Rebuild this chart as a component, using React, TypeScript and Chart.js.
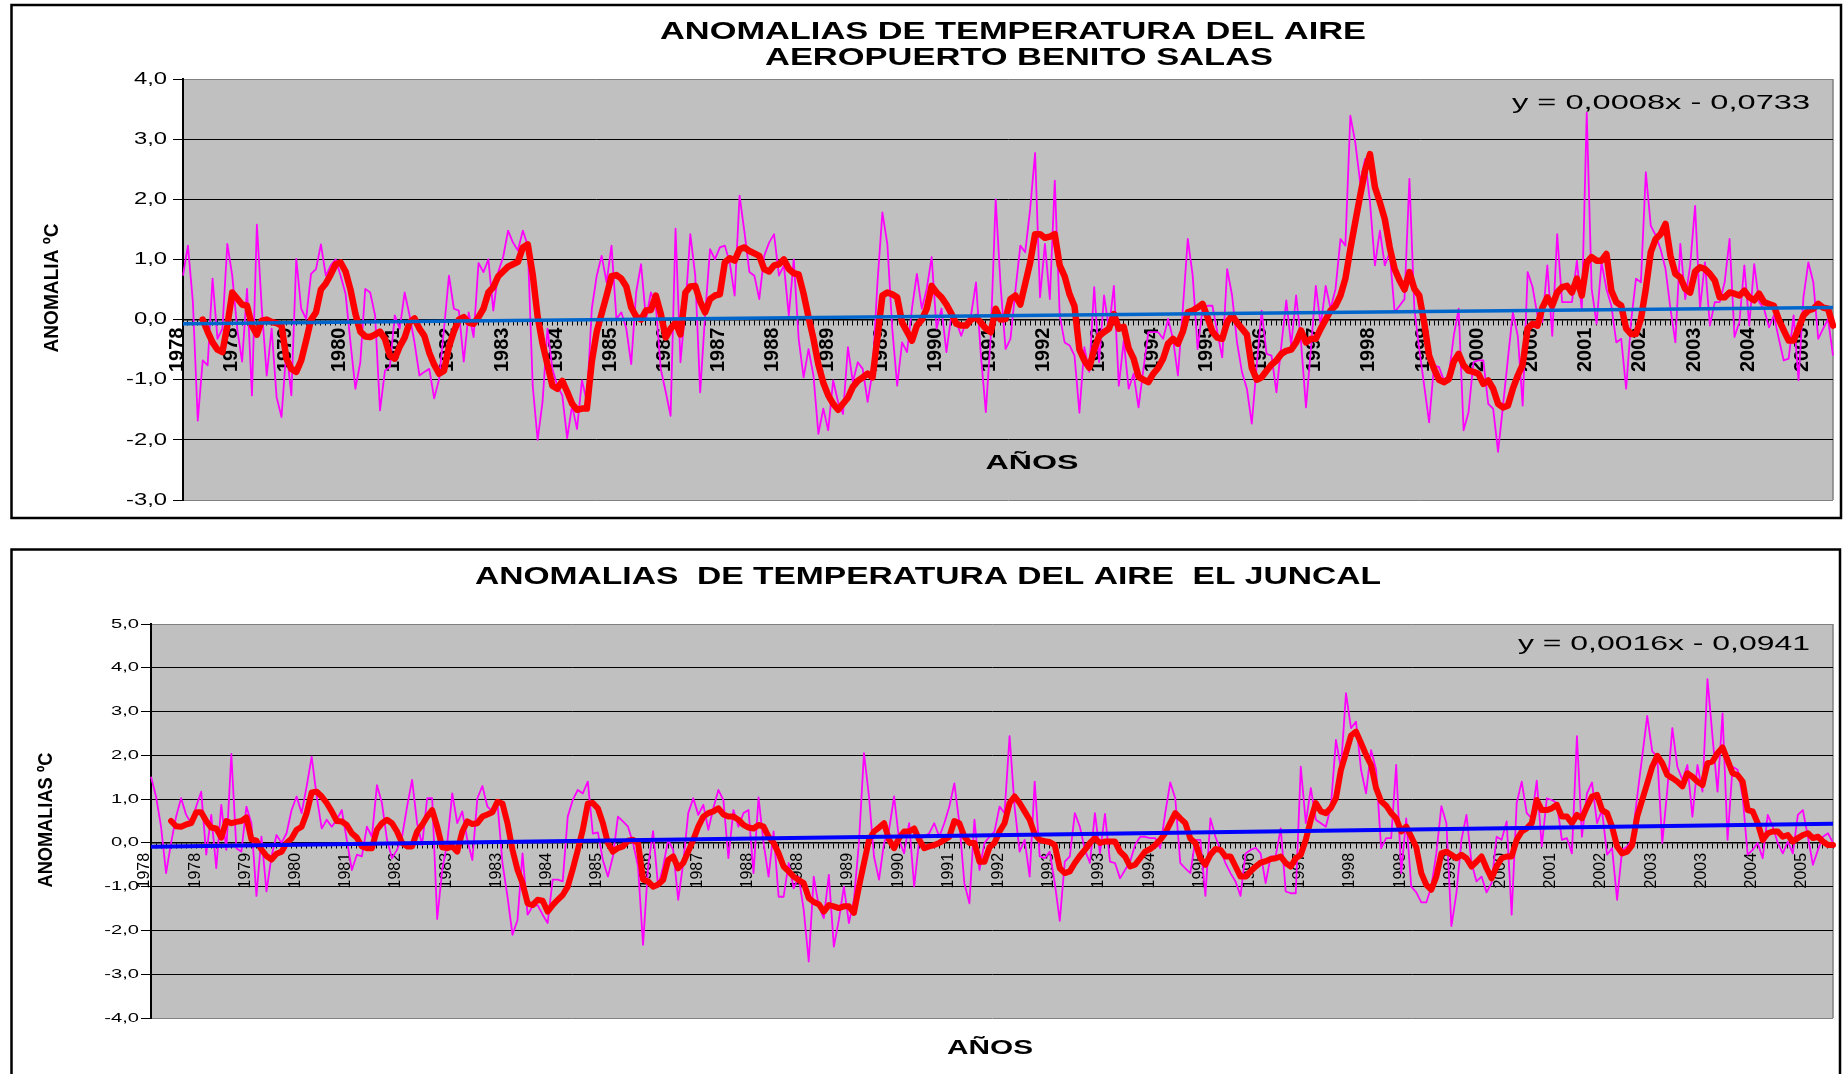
import React, { useEffect, useRef } from "react";
import { Chart, registerables } from "chart.js";

Chart.register(...registerables);

const FONT = '"Liberation Sans", Arial, Helvetica, sans-serif';

// ---------- categories ----------
const START_YEAR = 1978;
const N_MONTHS = 336; // Jan 1978 - Dec 2005
const monthLabels = Array.from(
  { length: N_MONTHS },
  (_, i) => `${START_YEAR + Math.floor(i / 12)}-${String((i % 12) + 1).padStart(2, "0")}`
);

// ---------- tick labels (as printed on the category axis) ----------
const topTickEvery = 11;
const topTickLabels = [
  "1978", "1978", "1979", "1980", "1981", "1982", "1983", "1984", "1985", "1986",
  "1987", "1988", "1989", "1989", "1990", "1991", "1992", "1993", "1994", "1995",
  "1996", "1997", "1998", "1999", "2000", "2000", "2001", "2002", "2003", "2004", "2005",
];
const bottomTickEvery = 10;
const bottomTickLabels = [
  "1978", "1978", "1979", "1980", "1981", "1982", "1983", "1983", "1984", "1985",
  "1986", "1987", "1988", "1988", "1989", "1990", "1991", "1992", "1993", "1993",
  "1994", "1995", "1996", "1997", "1998", "1998", "1999", "2000", "2001", "2002",
  "2003", "2003", "2004", "2005",
];

// ---------- Aeropuerto Benito Salas ----------
const topMonthly = [
  0.73, 1.23, 0.3, -1.68, -0.68, -0.76, 0.68, -0.32, -0.15, 1.26,
  0.73, -0.15, -0.7, 0.51, -1.26, 1.58, 0.18, -0.93, -0.15, -1.29,
  -1.62, -0.49, -1.26, 1.01, 0.18, 0.01, 0.76, 0.84, 1.25, 0.73,
  0.9, 1.0, 0.73, 0.43, -0.38, -1.15, -0.71, 0.51, 0.45, 0.07,
  -1.51, -0.85, -0.79, 0.07, -0.15, 0.45, 0.07, -0.38, -0.93, -0.87,
  -0.82, -1.31, -0.99, -0.15, 0.73, 0.18, 0.15, -0.7, 0.12, -0.29,
  0.94, 0.79, 1.0, 0.15, 0.79, 1.04, 1.48, 1.28, 1.15, 1.48,
  1.23, -1.1, -2.0, -1.37, -0.15, -0.82, -1.1, -1.26, -1.97, -1.43,
  -1.82, -1.01, -1.37, 0.18, 0.73, 1.06, 0.62, 1.23, 0.01, 0.12,
  -0.15, -0.74, 0.45, 0.92, 0.01, 0.45, 0.23, -0.82, -1.2, -1.6,
  1.51, -0.71, 0.2, 1.42, 0.73, -1.21, 0.07, 1.17, 1.0, 1.2,
  1.23, 0.95, 0.4, 2.06, 1.45, 0.79, 0.73, 0.34, 1.06, 1.28,
  1.42, 0.73, 0.9, 0.07, 1.0, -0.32, -0.96, -0.49, -0.93, -1.9,
  -1.48, -1.84, -1.01, -1.37, -1.57, -0.46, -1.04, -0.71, -0.82, -1.37,
  -0.87, 0.62, 1.78, 1.26, -0.15, -1.1, -0.38, -0.54, 0.18, 0.76,
  0.18, 0.51, 1.04, -0.15, 0.18, -0.54, 0.07, -0.04, -0.27, -0.04,
  0.07, 0.62, -0.6, -1.54, -0.27, 2.0, 0.56, -0.49, -0.32, 0.48,
  1.23, 1.12, 1.84, 2.77, 0.37, 1.26, 0.34, 2.31, 0.07, -0.38,
  -0.43, -0.6, -1.55, -0.46, -0.87, 0.54, -0.71, 0.4, -0.15, 0.56,
  -1.1, -0.35, -1.15, -0.9, -1.46, -0.82, -0.21, -0.21, -0.21, -0.32,
  0.01, -0.32, -0.93, 0.18, 1.34, 0.73, -0.49, 0.18, 0.23, 0.23,
  -0.21, -0.63, 0.84, 0.4, -0.38, -0.87, -1.15, -1.73, -0.76, 0.15,
  -0.57, -0.6, -1.21, -0.43, 0.32, -0.43, 0.4, -0.38, -1.46, -0.49,
  0.56, -0.1, 0.56, 0.18, 0.51, 1.34, 1.23, 3.39, 2.95, 2.28,
  2.67, 1.95, 0.9, 1.48, 0.9, 1.12, 0.12, 0.23, 0.34, 2.34,
  0.18, -0.49, -1.1, -1.71, -0.76, -0.79, -1.01, -0.93, -0.27, 0.18,
  -1.84, -1.54, -0.71, -0.68, -0.68, -1.4, -1.48, -2.2, -1.43, -0.65,
  0.12, -0.27, -1.43, 0.79, 0.54, 0.07, -0.04, 0.9, -0.27, 1.42,
  0.29, 0.29, 0.29, 0.98, 0.15, 3.44, 0.51, -0.07, 0.95, 0.51,
  0.23, -0.38, -0.32, -1.15, -0.04, 0.68, 0.62, 2.45, 1.56, 1.4,
  1.17, 0.84, 0.18, -0.38, 1.26, 0.34, 0.9, 1.89, 0.18, 0.95,
  -0.1, 0.29, 0.29, 0.62, 1.34, -0.29, -0.04, 0.9, -0.1, 0.92,
  0.29, 0.18, -0.13, 0.07, -0.32, -0.68, -0.65, 0.07, -1.01, 0.37,
  0.95, 0.62, -0.32, -0.15, 0.01, -0.6,
];
const topMovingAvg = [
  null, null, null, null, 0.0, -0.2, -0.38, -0.5, -0.54, -0.1,
  0.45, 0.35, 0.25, 0.23, -0.1, -0.25, -0.02, 0.0, -0.04, -0.06,
  -0.1, -0.65, -0.82, -0.87, -0.68, -0.35, 0.0, 0.12, 0.5, 0.6,
  0.75, 0.92, 0.95, 0.8, 0.5, 0.1, -0.2, -0.28, -0.29, -0.25,
  -0.2, -0.32, -0.6, -0.65, -0.45, -0.3, -0.05, 0.02, -0.15, -0.27,
  -0.55, -0.75, -0.9, -0.85, -0.45, -0.2, 0.0, 0.04, -0.05, -0.07,
  0.04, 0.18, 0.45, 0.54, 0.72, 0.8, 0.88, 0.92, 0.96, 1.2,
  1.25, 0.75, 0.05, -0.4, -0.75, -1.1, -1.15, -1.02, -1.2, -1.4,
  -1.5, -1.48, -1.48, -0.7, -0.2, 0.1, 0.4, 0.72, 0.74, 0.68,
  0.55, 0.2, 0.05, 0.0, 0.15, 0.16, 0.4, 0.1, -0.3, -0.15,
  -0.05, -0.25, 0.45, 0.55, 0.56, 0.3, 0.12, 0.34, 0.4, 0.42,
  0.95, 1.02, 0.98, 1.17, 1.2, 1.14, 1.1, 1.06, 0.84, 0.8,
  0.9, 0.92, 1.0, 0.84, 0.77, 0.75, 0.43, 0.04, -0.32, -0.75,
  -1.05, -1.26, -1.4, -1.5, -1.4, -1.3, -1.12, -1.02, -0.96, -0.9,
  -0.96, -0.3, 0.4, 0.45, 0.42, 0.37, -0.05, -0.2, -0.35, -0.1,
  0.0, 0.18, 0.56, 0.45, 0.37, 0.25, 0.1, -0.07, -0.1, -0.1,
  0.0, 0.04, -0.05, -0.15, -0.21, 0.18, 0.0, 0.01, 0.34, 0.4,
  0.25, 0.6, 0.95, 1.42, 1.42, 1.36, 1.38, 1.42, 0.9, 0.72,
  0.42, 0.22, -0.5, -0.68, -0.8, -0.5, -0.27, -0.21, -0.15, 0.09,
  -0.15, -0.12, -0.48, -0.65, -0.95, -1.0, -1.04, -0.9, -0.8, -0.65,
  -0.4, -0.32, -0.4, -0.2, 0.12, 0.15, 0.2, 0.26, 0.04, -0.2,
  -0.3, -0.32, -0.04, 0.07, -0.05, -0.15, -0.25, -0.8, -1.0, -0.96,
  -0.85, -0.75, -0.68, -0.57, -0.52, -0.5, -0.38, -0.18, -0.38, -0.32,
  -0.32, -0.15, 0.0, 0.15, 0.23, 0.4, 0.68, 1.17, 1.62, 2.06,
  2.48, 2.75, 2.2, 1.95, 1.67, 1.2, 0.84, 0.65, 0.5, 0.79,
  0.51, 0.4, -0.05, -0.6, -0.82, -1.0, -1.04, -0.99, -0.7, -0.57,
  -0.76, -0.85, -0.87, -0.9, -1.07, -1.01, -1.15, -1.4, -1.46, -1.43,
  -1.15, -0.93, -0.75, -0.15, -0.07, -0.1, 0.2, 0.37, 0.23, 0.45,
  0.54, 0.56, 0.45, 0.68, 0.4, 0.95, 1.04, 0.98, 0.98, 1.09,
  0.48, 0.29, 0.23, -0.15, -0.24, -0.24, 0.01, 0.51, 1.12, 1.34,
  1.42, 1.59, 1.06, 0.76, 0.7, 0.51, 0.45, 0.8, 0.87, 0.84,
  0.76, 0.65, 0.37, 0.37, 0.45, 0.43, 0.4, 0.48, 0.37, 0.32,
  0.43, 0.29, 0.26, 0.23, 0.0, -0.18, -0.35, -0.35, -0.15, 0.07,
  0.15, 0.18, 0.26, 0.2, 0.18, -0.1,
];
const topTrendEnds = [-0.07, 0.2];

// ---------- El Juncal ----------
const bottomMonthly = [
  1.51, 1.06, 0.37, -0.69, 0.0, 0.6, 1.02, 0.64, 0.45, 0.83,
  1.17, -0.27, 0.64, -0.58, 0.87, -0.16, 2.03, -0.12, -0.2, 0.83,
  0.45, -1.21, 0.14, -1.11, -0.31, 0.18, 0.0, 0.22, 0.75, 1.06,
  0.68, 1.29, 1.97, 1.06, 0.33, 0.53, 0.37, 0.53, 0.75, 0.07,
  -0.62, -0.27, -0.31, 0.37, 0.14, 1.32, 0.91, 0.07, -0.35, -0.16,
  0.14, 0.83, 1.44, 0.45, -0.05, 1.02, 1.02, -1.74, -0.62, 0.0,
  1.13, 0.45, 0.72, 0.07, -0.39, 1.02, 1.3, 0.83, 0.72, 0.91,
  -0.46, -1.23, -2.1, -1.76, -0.24, -1.64, -1.45, -1.42, -1.64, -1.83,
  -0.84, -0.84, -0.88, 0.6, 0.98, 1.21, 1.13, 1.4, 0.21, 0.24,
  -0.39, -0.77, -0.31, 0.6, 0.49, 0.37, 0.0, -0.54, -2.33, -0.54,
  0.27, -1.0, -0.54, 0.07, -0.16, -1.3, -0.46, 0.68, 1.02, 0.64,
  0.87, 0.3, 0.79, 1.21, 0.98, -0.35, 0.75, 0.37, 0.68, 0.75,
  -0.69, 1.04, 0.0, -0.77, 0.26, -1.23, -1.23, -0.46, -1.04, -0.77,
  -1.53, -2.71, -0.77, -1.45, -1.72, -0.73, -2.37, -1.76, -1.0, -1.83,
  -1.3, 0.0, 2.05, 1.06, -0.31, -0.84, 0.0, 0.3, 1.06, 0.07,
  -0.24, 0.45, -1.0, 0.07, 0.14, 0.22, 0.45, 0.14, 0.45, 0.83,
  1.36, 0.45, -0.92, -1.38, 0.53, -0.62, 0.0, 0.14, 0.26, 0.83,
  0.68, 2.44, 0.83, -0.2, 0.07, -0.77, 1.4, -0.31, -0.35, -0.2,
  -0.92, -1.78, -0.43, -0.31, 0.68, 0.37, -0.16, -0.46, 0.68, -0.24,
  0.66, -0.43, -0.46, -0.81, -0.62, -0.43, -0.05, 0.14, 0.14, 0.11,
  0.11, -0.12, 0.68, 1.38, 1.02, -0.46, -0.58, -0.69, 0.07, 0.07,
  -1.21, 0.56, 0.14, -0.16, -0.46, -0.69, -0.88, -1.21, -0.24, -0.16,
  -0.11, -0.24, -0.92, -0.31, -0.31, 0.33, -1.11, -1.15, -1.15, 1.74,
  0.45, 1.25, 0.53, 0.45, 0.37, 0.83, 2.35, 1.7, 3.42, 2.62,
  2.77, 1.67, 1.13, 2.12, 1.67, -0.12, 0.11, 0.11, 1.78, -0.69,
  0.56, -1.0, -1.13, -1.36, -1.36, -1.0, -0.24, 0.84, 0.45, -1.9,
  -1.15, 0.07, 0.64, -0.46, -0.88, -0.77, -1.13, -0.92, 0.14, 0.07,
  0.49, -1.64, 0.91, 1.4, 0.68, 0.56, 1.42, -0.08, 1.02, 0.98,
  0.91, 0.07, 0.11, -0.24, 2.44, 0.14, 1.13, 1.38, 0.45, 0.75,
  -0.27, -0.12, -1.3, -0.16, -0.08, 0.07, 1.06, 1.97, 2.9, 2.09,
  1.97, 0.0, 1.21, 2.62, 1.74, 1.44, 1.78, 0.6, 1.78, 1.17,
  3.74, 2.43, 1.17, 2.96, 0.07, 1.74, 1.67, 1.06, -0.27, -0.16,
  0.0, -0.35, 0.64, 0.37, 0.0, -0.24, 0.03, -0.24, 0.64, 0.75,
  0.14, -0.5, -0.16, 0.14, 0.22, 0.0,
];
const bottomMovingAvg = [
  null, null, null, null, 0.5, 0.38, 0.37, 0.42, 0.45, 0.7,
  0.7, 0.5, 0.35, 0.33, 0.12, 0.5, 0.45, 0.48, 0.5, 0.58,
  0.08, 0.05, -0.15, -0.3, -0.38, -0.25, -0.2, 0.0, 0.1, 0.3,
  0.37, 0.68, 1.15, 1.17, 1.06, 0.91, 0.72, 0.5, 0.49, 0.41,
  0.22, 0.12, -0.08, -0.12, -0.12, 0.3, 0.45, 0.53, 0.45, 0.26,
  0.0, -0.08, -0.08, 0.26, 0.41, 0.6, 0.75, 0.37, -0.1, -0.12,
  -0.08, -0.2, 0.26, 0.49, 0.43, 0.45, 0.6, 0.65, 0.7, 0.94,
  0.9, 0.45, -0.16, -0.62, -0.92, -1.38, -1.42, -1.3, -1.32, -1.57,
  -1.42, -1.3, -1.19, -1.0, -0.6, -0.16, 0.3, 0.9, 0.91, 0.79,
  0.45, 0.0, -0.2, -0.12, -0.08, 0.05, 0.07, 0.0, -0.84, -0.88,
  -1.0, -0.95, -0.85, -0.39, -0.31, -0.58, -0.46, -0.2, 0.07, 0.37,
  0.6, 0.68, 0.72, 0.79, 0.65, 0.6, 0.6, 0.53, 0.41, 0.35,
  0.33, 0.41, 0.37, 0.14, 0.0, -0.24, -0.54, -0.65, -0.77, -0.85,
  -0.92, -1.26, -1.35, -1.4, -1.57, -1.42, -1.45, -1.49, -1.45, -1.45,
  -1.6, -1.0, -0.46, 0.07, 0.26, 0.35, 0.45, 0.07, -0.12, 0.11,
  0.26, 0.26, 0.33, 0.07, -0.12, -0.08, -0.05, 0.0, 0.07, 0.14,
  0.5, 0.45, 0.14, 0.0, 0.0, -0.43, -0.43, -0.1, 0.0, 0.26,
  0.45, 0.91, 1.06, 0.91, 0.72, 0.53, 0.2, 0.07, 0.04, 0.02,
  -0.05, -0.58, -0.69, -0.65, -0.46, -0.3, -0.16, 0.0, 0.11, 0.0,
  0.03, 0.03, 0.03, -0.2, -0.31, -0.54, -0.5, -0.35, -0.2, -0.14,
  -0.05, 0.07, 0.22, 0.45, 0.68, 0.56, 0.45, 0.1, 0.0, -0.35,
  -0.5, -0.27, -0.14, -0.16, -0.31, -0.31, -0.54, -0.77, -0.77, -0.65,
  -0.54, -0.45, -0.42, -0.37, -0.35, -0.31, -0.46, -0.54, -0.35, -0.27,
  0.07, 0.53, 0.91, 0.72, 0.68, 0.8, 1.02, 1.67, 2.05, 2.45,
  2.54, 2.28, 2.01, 1.78, 1.25, 0.95, 0.85, 0.68, 0.56, 0.26,
  0.37, 0.14, -0.1, -0.69, -0.96, -1.07, -0.77, -0.24, -0.2, -0.27,
  -0.35, -0.27, -0.35, -0.54, -0.43, -0.31, -0.58, -0.81, -0.54, -0.35,
  -0.31, -0.31, 0.07, 0.26, 0.33, 0.45, 0.98, 0.75, 0.75, 0.79,
  0.87, 0.6, 0.6, 0.45, 0.64, 0.56, 0.83, 1.06, 1.1, 0.75,
  0.68, 0.37, -0.08, -0.24, -0.2, -0.05, 0.6, 0.98, 1.36, 1.74,
  1.99, 1.82, 1.55, 1.48, 1.4, 1.29, 1.59, 1.51, 1.4, 1.32,
  1.82, 1.86, 2.05, 2.18, 1.89, 1.59, 1.55, 1.4, 0.75, 0.72,
  0.45, 0.07, 0.22, 0.26, 0.26, 0.14, 0.18, 0.03, 0.11, 0.18,
  0.22, 0.11, 0.14, 0.03, -0.05, -0.05,
];
const bottomTrendEnds = [-0.09, 0.44];

// ---------- helpers ----------
type TextOpts = {
  font: string;
  width?: number;
  sx?: number;
  align?: CanvasTextAlign;
  rotate?: number;
  color?: string;
};

function drawText(ctx: CanvasRenderingContext2D, text: string, x: number, y: number, o: TextOpts) {
  ctx.save();
  ctx.font = o.font;
  ctx.fillStyle = o.color || "#000";
  ctx.textAlign = o.align || "center";
  ctx.textBaseline = "middle";
  let sx = o.sx ?? 1;
  if (o.width) sx = o.width / ctx.measureText(text).width;
  ctx.translate(x, y);
  if (o.rotate) ctx.rotate(o.rotate);
  ctx.scale(sx, 1);
  ctx.fillText(text, 0, 0);
  ctx.restore();
}

function trendSeries(ends: number[]) {
  const arr: (number | null)[] = new Array(N_MONTHS).fill(null);
  arr[0] = ends[0];
  arr[N_MONTHS - 1] = ends[1];
  return arr;
}

const fmt = (v: number) => v.toFixed(1).replace(".", ",");

type Panel = {
  key: string;
  W: number;
  H: number;
  plot: { left: number; top: number; right: number; bottom: number };
  yMin: number;
  yMax: number;
  frame: { x: number; y: number; w: number; h: number };
  monthly: number[];
  ma: (number | null)[];
  trend: number[];
  trendColor: string;
  trendWidth: number;
  maWidth: number;
  tickLabels: string[];
  tickEvery: number;
  xFont: number;
  xWeight: string;
  xPad: number;
  yTickRight: number;
  yTickFont: number;
  yTickSx: number;
  texts: { text: string; x: number; y: number; o: TextOpts }[];
};

const topPanel: Panel = {
  key: "top",
  W: 1843,
  H: 530,
  plot: { left: 183, top: 79, right: 1833, bottom: 500 },
  yMin: -3,
  yMax: 4,
  frame: { x: 11.5, y: 5, w: 1829.5, h: 513 },
  monthly: topMonthly,
  ma: topMovingAvg,
  trend: topTrendEnds,
  trendColor: "#0066CC",
  trendWidth: 3.5,
  maWidth: 6.5,
  tickLabels: topTickLabels,
  tickEvery: topTickEvery,
  xFont: 20,
  xWeight: "bold",
  xPad: 3,
  yTickRight: 167,
  yTickFont: 17,
  yTickSx: 1.4,
  texts: [
    { text: "ANOMALIAS DE TEMPERATURA DEL AIRE", x: 1013, y: 33, o: { font: `bold 23px ${FONT}`, width: 706 } },
    { text: "AEROPUERTO BENITO SALAS", x: 1019, y: 59, o: { font: `bold 23px ${FONT}`, width: 508 } },
    { text: "ANOMALIA ºC", x: 52, y: 288, o: { font: `bold 21px ${FONT}`, width: 129, rotate: -Math.PI / 2 } },
    { text: "AÑOS", x: 1032, y: 463, o: { font: `bold 20px ${FONT}`, width: 93 } },
    { text: "y = 0,0008x - 0,0733", x: 1661, y: 103, o: { font: `20px ${FONT}`, width: 298 } },
  ],
};

const bottomPanel: Panel = {
  key: "bottom",
  W: 1843,
  H: 544,
  plot: { left: 151, top: 94, right: 1833, bottom: 488 },
  yMin: -4,
  yMax: 5,
  frame: { x: 11.5, y: 19.5, w: 1828.5, h: 600 },
  monthly: bottomMonthly,
  ma: bottomMovingAvg,
  trend: bottomTrendEnds,
  trendColor: "#0000FF",
  trendWidth: 4,
  maWidth: 6,
  tickLabels: bottomTickLabels,
  tickEvery: bottomTickEvery,
  xFont: 16,
  xWeight: "normal",
  xPad: 5,
  yTickRight: 139,
  yTickFont: 13,
  yTickSx: 1.55,
  texts: [
    { text: "ANOMALIAS  DE TEMPERATURA DEL AIRE  EL JUNCAL", x: 928, y: 48, o: { font: `bold 23px ${FONT}`, width: 906 } },
    { text: "ANOMALIAS ºC", x: 46, y: 290, o: { font: `bold 20px ${FONT}`, width: 135, rotate: -Math.PI / 2 } },
    { text: "AÑOS", x: 990, y: 518, o: { font: `bold 20px ${FONT}`, width: 86 } },
    { text: "y = 0,0016x - 0,0941", x: 1664, y: 114, o: { font: `20px ${FONT}`, width: 292 } },
  ],
};

function makePlugin(p: Panel) {
  return {
    id: "panelDecor_" + p.key,
    beforeDraw(chart: any) {
      const { ctx, chartArea: a, width, height } = chart;
      ctx.save();
      ctx.fillStyle = "#FFFFFF";
      ctx.fillRect(0, 0, width, height);
      ctx.strokeStyle = "#000";
      ctx.lineWidth = 2.5;
      ctx.strokeRect(p.frame.x, p.frame.y, p.frame.w, p.frame.h);
      ctx.fillStyle = "#C0C0C0";
      ctx.fillRect(a.left, a.top, a.right - a.left, a.bottom - a.top);
      ctx.strokeStyle = "#808080";
      ctx.lineWidth = 1.5;
      ctx.beginPath();
      ctx.moveTo(a.right, a.top);
      ctx.lineTo(a.right, a.bottom);
      ctx.stroke();
      ctx.restore();
    },
    afterDraw(chart: any) {
      const { ctx } = chart;
      const ys = chart.scales.y;
      ys.ticks.forEach((t: any) => {
        drawText(ctx, fmt(t.value), p.yTickRight, ys.getPixelForValue(t.value), {
          font: `${p.yTickFont}px ${FONT}`,
          sx: p.yTickSx,
          align: "right",
        });
      });
      p.texts.forEach((t) => drawText(ctx, t.text, t.x, t.y, t.o));
    },
  };
}

function makeConfig(p: Panel): any {
  return {
    type: "line",
    data: {
      labels: monthLabels,
      datasets: [
        {
          label: "Anomalía mensual",
          data: p.monthly,
          borderColor: "#FF00FF",
          borderWidth: 1.8,
          pointRadius: 0,
          tension: 0,
          borderJoinStyle: "round",
          order: 3,
        },
        {
          label: "Media móvil",
          data: p.ma,
          borderColor: "#FF0000",
          borderWidth: p.maWidth,
          pointRadius: 0,
          tension: 0,
          borderJoinStyle: "round",
          borderCapStyle: "round",
          order: 2,
        },
        {
          label: "Tendencia lineal",
          data: trendSeries(p.trend),
          borderColor: p.trendColor,
          borderWidth: p.trendWidth,
          pointRadius: 0,
          spanGaps: true,
          order: 1,
        },
      ],
    },
    options: {
      animation: false,
      responsive: false,
      maintainAspectRatio: false,
      events: [],
      layout: {
        padding: {
          left: 0,
          top: p.plot.top,
          right: p.W - p.plot.right,
          bottom: p.H - p.plot.bottom,
        },
      },
      plugins: {
        legend: { display: false },
        tooltip: { enabled: false },
        title: { display: false },
      },
      scales: {
        x: {
          type: "category",
          position: { y: 0 },
          offset: false,
          grid: {
            drawOnChartArea: false,
            drawTicks: true,
            tickLength: 5,
            tickColor: "#000",
            tickWidth: 1,
            offset: false,
          },
          border: { display: true, color: "#000", width: 1.5 },
          ticks: {
            autoSkip: false,
            maxRotation: 90,
            minRotation: 90,
            padding: p.xPad,
            labelOffset: -6,
            color: "#000",
            font: { family: FONT, size: p.xFont, weight: p.xWeight },
            callback: (_v: any, i: number) =>
              i % p.tickEvery === 0 ? p.tickLabels[i / p.tickEvery] ?? "" : "",
          },
          afterFit: (s: any) => {
            s.paddingLeft = 0;
            s.paddingRight = 0;
          },
        },
        y: {
          min: p.yMin,
          max: p.yMax,
          ticks: { stepSize: 1, display: false },
          grid: {
            color: (c: any) =>
              c.tick && (c.tick.value === p.yMax || c.tick.value === p.yMin) ? "#808080" : "#000",
            lineWidth: 1,
            drawTicks: true,
            tickLength: 10,
            tickColor: "#000",
          },
          border: { display: true, color: "#000", width: 2 },
          afterFit: (s: any) => {
            s.width = p.plot.left;
            s.paddingTop = 0;
            s.paddingBottom = 0;
          },
        },
      },
    },
    plugins: [makePlugin(p)],
  };
}

export default function App() {
  const topRef = useRef<HTMLCanvasElement | null>(null);
  const botRef = useRef<HTMLCanvasElement | null>(null);

  useEffect(() => {
    const c1 = new Chart(topRef.current as HTMLCanvasElement, makeConfig(topPanel));
    const c2 = new Chart(botRef.current as HTMLCanvasElement, makeConfig(bottomPanel));
    return () => {
      c1.destroy();
      c2.destroy();
    };
  }, []);

  return (
    <div
      style={{
        position: "absolute",
        left: 0,
        top: 0,
        width: 1843,
        height: 1074,
        background: "#FFFFFF",
        overflow: "hidden",
      }}
    >
      <canvas
        ref={topRef}
        width={1843}
        height={530}
        style={{ position: "absolute", left: 0, top: 0, width: 1843, height: 530 }}
      />
      <canvas
        ref={botRef}
        width={1843}
        height={544}
        style={{ position: "absolute", left: 0, top: 530, width: 1843, height: 544 }}
      />
    </div>
  );
}
